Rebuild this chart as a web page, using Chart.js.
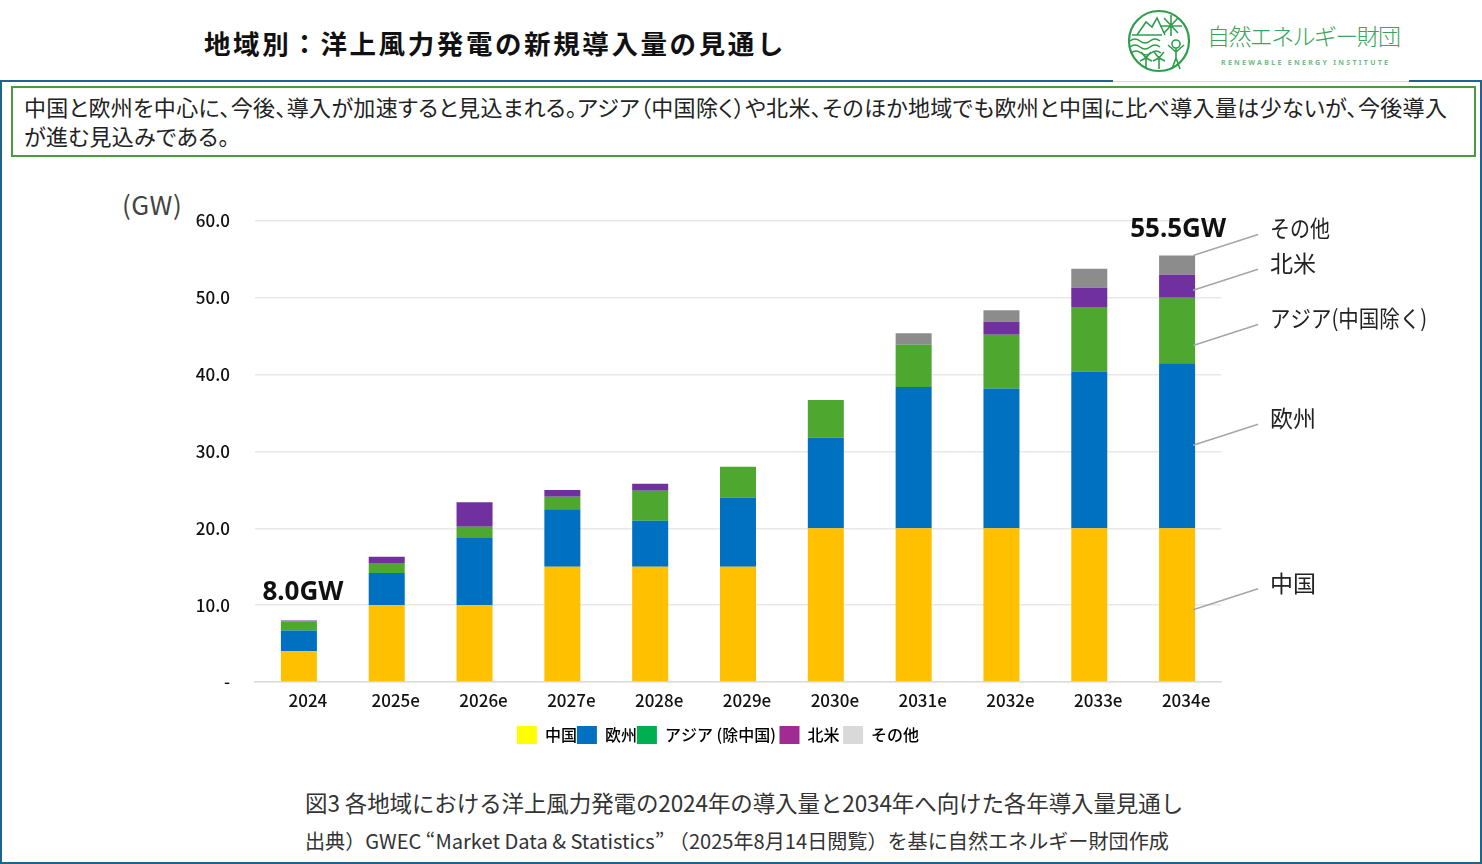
<!DOCTYPE html>
<html lang="ja"><head><meta charset="utf-8">
<style>
html,body{margin:0;padding:0;background:#fff;width:1482px;height:864px;overflow:hidden;font-family:"Noto Sans CJK JP","Noto Sans",sans-serif;color:#222}
.t{position:absolute;white-space:nowrap}
#frame{position:absolute;left:0;top:80px;width:1478px;height:780px;border:2px solid #1f6391}
#gap{position:absolute;left:1113px;top:79px;width:296px;height:3px;background:#fff;border-bottom:1px solid #cfdde6;box-sizing:border-box}
#box{position:absolute;left:11px;top:86px;width:1461px;height:67px;border:2px solid #4c9a3f;background:#fff}
#boxt{position:absolute;left:24px;top:92px;white-space:nowrap;font-size:22px;line-height:29px;color:#222;font-feature-settings:"palt";letter-spacing:.35px}
#chartWrap{position:absolute;left:0;top:180px;width:1436px;height:580px}
</style>
</head><body>
<div class="t" style="left:204px;top:24px;font-size:26.5px;font-weight:700;letter-spacing:2.6px;line-height:38px;color:#111">地域別：洋上風力発電の新規導入量の見通し</div>
<svg style="position:absolute;left:1120px;top:5px" width="300" height="72" viewBox="1120 5 300 72">
<g fill="none" stroke="#2f9e4b" stroke-width="1.6">
<circle cx="1159" cy="41" r="30" stroke-width="2.2"/>
<path d="M1137 35l9-13 6 5 5-9 8 17M1132 35h30"/>
<path d="M1171 15v21M1160 26h22M1164 18l14 15M1178 18l-14 15"/>
<path d="M1130 41q5-4 10 0t10 0 10 0M1130 47q5-4 10 0t10 0 10 0M1131 53q5-4 10 0t10 0 10 0"/>
<circle cx="1176" cy="44" r="4"/><path d="M1176 48v10l-4 11M1176 58l4 11M1168 45l8 7 8-7"/>
<path d="M1146 56v13M1141 52l5 6 5-6M1140 61l6-3 6 3M1159 56v13M1154 52l5 6 5-6M1153 61l6-3 6 3"/>
</g>
<text x="1207" y="45" font-size="23" fill="#3aa457" font-family="Noto Sans CJK JP" font-weight="300" textLength="194" lengthAdjust="spacing">自然エネルギー財団</text>
<text x="1221" y="65" font-size="7" fill="#6fbb85" font-family="Noto Sans" font-weight="700" textLength="167">RENEWABLE ENERGY INSTITUTE</text>
</svg>
<div id="frame"></div><div id="gap"></div>
<div id="box"></div>
<div id="boxt">中国と欧州を中心に、今後、導入が加速すると見込まれる。アジア（中国除く）や北米、そのほか地域でも欧州と中国に比べ導入量は少ないが、今後導入<br>が進む見込みである。</div>
<div class="t" style="left:122px;top:186px;font-size:26px;line-height:36px;color:#444;letter-spacing:.5px">(GW)</div>
<div id="chartWrap"><canvas id="c" width="1436" height="580" style="width:1436px;height:580px;display:block"></canvas></div>
<div class="t" style="left:305px;top:786px;font-size:22.5px;line-height:32px;color:#333;letter-spacing:-.1px">図3 各地域における洋上風力発電の2024年の導入量と2034年へ向けた各年導入量見通し</div>
<div class="t" style="left:305px;top:827px;font-size:20.1px;line-height:28px;color:#333">出典）GWEC “Market Data &amp; Statistics” （2025年8月14日閲覧）を基に自然エネルギー財団作成</div>
<script src="https://cdn.jsdelivr.net/npm/chart.js@4"></script>
<script>
const categories=['2024','2025e','2026e','2027e','2028e','2029e','2030e','2031e','2032e','2033e','2034e'];
const china=[4,10,10,15,15,15,20,20,20,20,20];
const europe=[2.7,4.2,8.75,7.5,6,9,11.8,18.4,18.2,20.4,21.5];
const asia=[1.2,1.3,1.45,1.6,3.9,4,4.9,5.5,7,8.4,8.5];
const northAmerica=[0.1,0.8,3.2,0.9,0.9,0,0,0,1.7,2.5,3];
const others=[0,0,0,0,0,0,0,1.5,1.5,2.5,2.5];
const seriesNames=['中国','欧州','アジア(中国除く)','北米','その他'];
const barColors=['#FFC000','#0070C0','#4EA72E','#7030A0','#8C8C8C'];
const legendNames=['中国','欧州','アジア (除中国) ','北米 ','その他'];
const legendColors=['#FFFF00','#0070C0','#00B050','#A02B93','#D9D9D9'];
const leaderNames=['その他','北米','アジア(中国除く)','欧州','中国'];
const leaderValues=[55.5,51,43.8,30.8,9.4];
const totals=[{index:0,value:8.0,text:'8.0GW'},{index:10,value:55.5,text:'55.5GW'}];
const JP='"Noto Sans CJK JP"';
const annot={id:'annot',afterDatasetsDraw(ch){
  const c=ch.ctx,x=ch.scales.x,y=ch.scales.y;
  const widths=[60,46,157,46,46];
  c.save();
  const bx=x.getPixelForValue(10)+16;
  c.textBaseline='middle';
  leaderNames.forEach((n,i)=>{
    const py=y.getPixelForValue(leaderValues[i]);
    c.strokeStyle='#a6a6a6';c.lineWidth=1.6;
    c.beginPath();c.moveTo(bx,py);c.lineTo(bx+65,py-21);c.stroke();
    c.fillStyle='#222';c.font='400 23px '+JP;c.textAlign='left';
    c.fillText(n,bx+77,py-27,widths[i]);
  });
  c.fillStyle='#111';c.font='700 26px "Noto Sans",sans-serif';c.textAlign='center';
  totals.forEach(t=>{
    const off=t.index===0?[4,-28]:[1,-26];
    c.fillText(t.text,x.getPixelForValue(t.index)+off[0],y.getPixelForValue(t.value)+off[1]);
  });
  c.restore();
}};
const series=[china,europe,asia,northAmerica,others];
new Chart(document.getElementById('c'),{
  type:'bar',
  data:{labels:categories,datasets:series.map((d,i)=>({label:seriesNames[i],data:d,backgroundColor:barColors[i],borderWidth:0,stack:'s',categoryPercentage:1,barPercentage:0.41}))},
  plugins:[annot],
  options:{
    responsive:false,animation:false,
    layout:{padding:{top:41,right:0,left:0,bottom:6}},
    scales:{
      x:{stacked:true,grid:{display:false,drawTicks:false},border:{color:'#dcdcdc',width:1.5},
         afterFit(s){s.height=44},
         ticks:{color:'#111',font:{family:JP,size:17,weight:500},padding:8,labelOffset:9,maxRotation:0,autoSkip:false}},
      y:{stacked:true,min:0,max:60,grid:{color:'#e8e8e8',lineWidth:1.5,drawTicks:false},border:{display:false},
         afterFit(s){s.width=255},
         ticks:{stepSize:10,color:'#111',font:{family:JP,size:17,weight:500},padding:25,callback:v=>v===0?'-':v.toFixed(1)}},
      rightSpace:{type:'linear',position:'right',min:0,max:60,display:true,grid:{display:false,drawOnChartArea:false,drawTicks:false},border:{display:false},
         ticks:{display:false},afterFit(s){s.width=215}}
    },
    plugins:{
      tooltip:{enabled:false},
      legend:{position:'bottom',labels:{boxWidth:20,boxHeight:18,padding:0,color:'#111',font:{family:JP,size:16,weight:500},
        generateLabels:()=>legendNames.map((n,i)=>({text:n,fillStyle:legendColors[i],strokeStyle:legendColors[i],lineWidth:0,datasetIndex:i}))}}
    }
  }
});
</script>
</body></html>
